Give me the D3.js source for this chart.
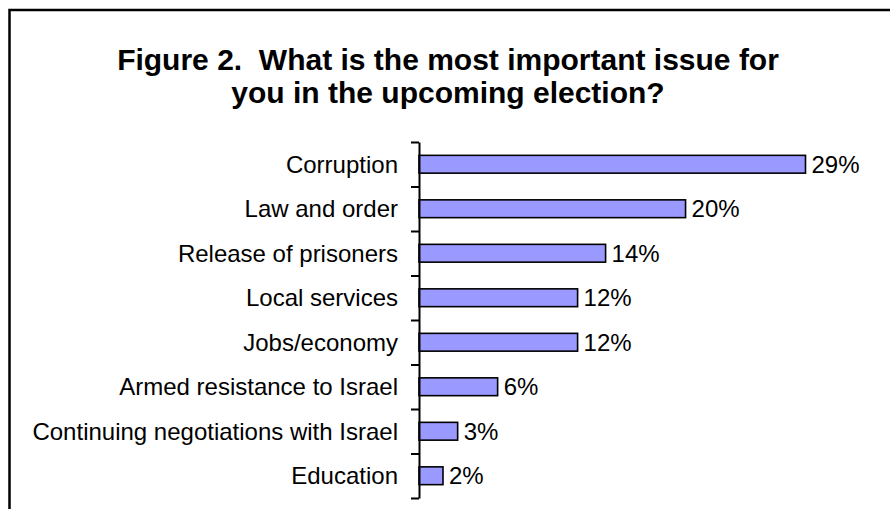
<!DOCTYPE html>
<html>
<head>
<meta charset="utf-8">
<script src="https://cdn.jsdelivr.net/npm/d3@7"></script>
<style>
  body { margin: 0; background: #fff; }
  svg { display: block; }
</style>
</head>
<body>
<div class="container"></div>
<script>
// chart data
const issues = ['Corruption', 'Law and order', 'Release of prisoners', 'Local services',
  'Jobs/economy', 'Armed resistance to Israel', 'Continuing negotiations with Israel', 'Education'];
const shares = [29, 20, 14, 11.9, 11.9, 5.9, 2.9, 1.8];
const shareLabels = ['29%', '20%', '14%', '12%', '12%', '6%', '3%', '2%'];
const titleLines = ['Figure 2.\u00a0 What is the most important issue for', 'you in the upcoming election?'];

let width = 890, height = 509;
const plotLeft = 419, plotTop = 142, plotBottom = 498;

const svg = d3.select('.container')
    .append('svg')
    .attr('width', width)
    .attr('height', height)
    .style('font-family', 'Arial, "Liberation Sans", sans-serif')

// frame (top + left only visible)
svg.append('path')
    .attr('d', `M9.5,${height + 5}V10H${width + 5}`)
    .attr('fill', 'none')
    .attr('stroke', '#000')
    .attr('stroke-width', 2.5)

svg.selectAll('text.title')
    .data(titleLines)
    .enter()
    .append('text')
    .attr('class', 'title')
    .attr('x', 448)
    .attr('y', (d, i) => 70 + i * 33)
    .attr('text-anchor', 'middle')
    .attr('font-size', 30)
    .attr('font-weight', 'bold')
    .text(d => d)

const xScale = d3.scaleLinear()
    .domain([0, 29])
    .range([plotLeft, 805.5])
const yScale = d3.scaleBand()
    .domain(issues)
    .range([plotTop, plotBottom])
    .paddingInner(0.6)
    .paddingOuter(0.3)
// tick positions are band boundaries
const tickScale = d3.scaleLinear()
    .domain([0, issues.length])
    .range([plotTop, plotBottom])

svg.selectAll('rect')
    .data(issues)
    .enter()
    .append('rect')
    .attr('x', xScale(0))
    .attr('y', d => yScale(d))
    .attr('width', (d, i) => xScale(shares[i]) - xScale(0))
    .attr('height', yScale.bandwidth())
    .attr('fill', '#9999ff')
    .attr('stroke', '#000')
    .attr('stroke-width', 1.6)

const yAxis = d3.axisLeft(tickScale)
    .tickValues(d3.range(issues.length + 1))
    .tickFormat('')
    .tickSize(8)
    .tickSizeOuter(0)
svg.append('g')
    .attr('transform', `translate(${plotLeft},0)`)
    .call(yAxis)
    .call(g => g.selectAll('line, path').attr('stroke', '#000').attr('stroke-width', 2))

svg.selectAll('text.cat')
    .data(issues)
    .enter()
    .append('text')
    .attr('class', 'cat')
    .attr('x', 398)
    .attr('y', d => yScale(d) + yScale.bandwidth() / 2)
    .attr('dy', '0.36em')
    .attr('text-anchor', 'end')
    .attr('font-size', 24)
    .text(d => d)

svg.selectAll('text.val')
    .data(issues)
    .enter()
    .append('text')
    .attr('class', 'val')
    .attr('x', (d, i) => xScale(shares[i]) + 6)
    .attr('y', d => yScale(d) + yScale.bandwidth() / 2)
    .attr('dy', '0.36em')
    .attr('font-size', 24)
    .text((d, i) => shareLabels[i])
</script>
</body>
</html>
